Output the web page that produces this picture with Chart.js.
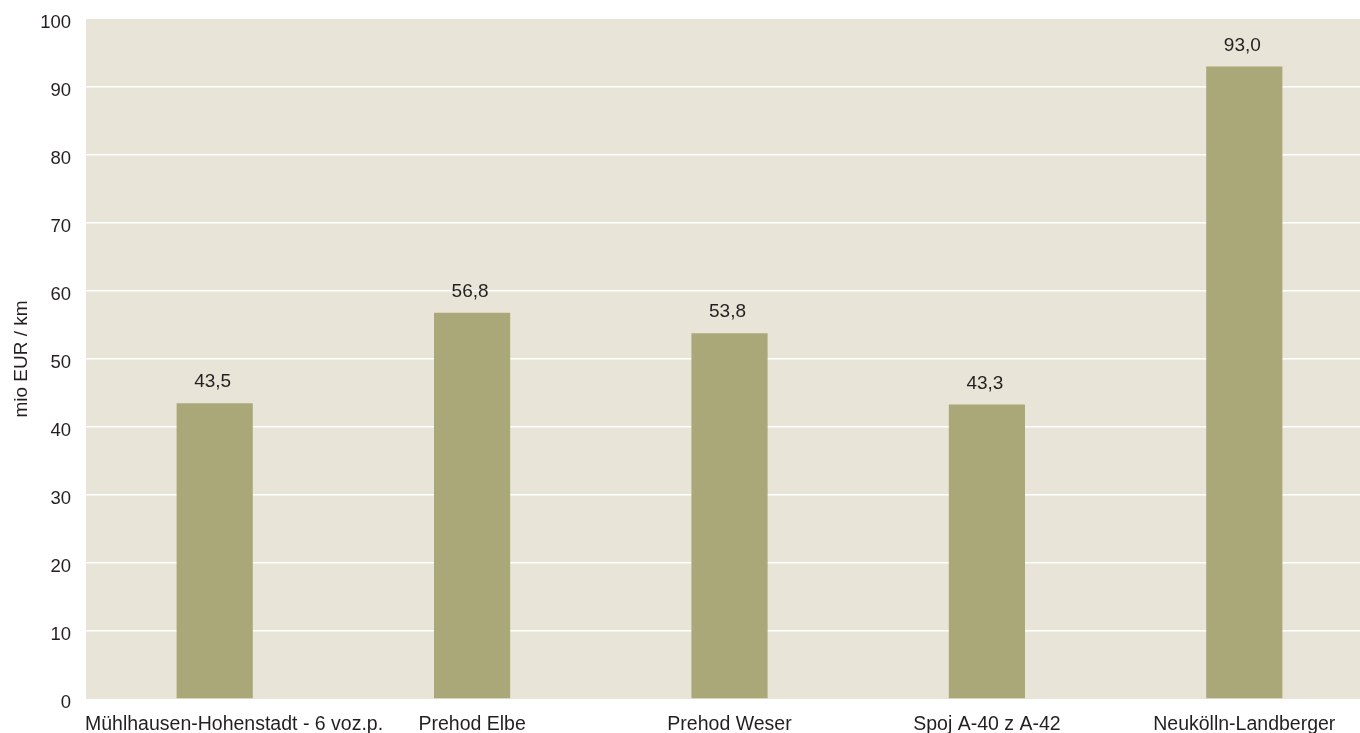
<!DOCTYPE html>
<html><head><meta charset="utf-8">
<script src="https://cdn.jsdelivr.net/npm/chart.js@4.4.0/dist/chart.umd.min.js"></script>
<style>
html,body{margin:0;padding:0;background:#fff;overflow:hidden;width:1360px;height:733px;}
#wrap{position:absolute;left:0;top:0;width:1373px;height:745px;}
</style></head><body>
<div id="wrap"><canvas id="c" width="1373" height="745"></canvas></div>
<script>
const categories = ["Mühlhausen-Hohenstadt - 6 voz.p.", "Prehod Elbe", "Prehod Weser", "Spoj A-40 z A-42", "Neukölln-Landberger"];
const values = [43.5, 56.8, 53.8, 43.3, 93.0];
const yTicks = [0, 10, 20, 30, 40, 50, 60, 70, 80, 90, 100];
const yTitle = "mio EUR / km";

const FONT = "'Liberation Sans', Arial, Helvetica, sans-serif";
const TXT = "#231f20";

const bgPlugin = {
  id: 'bg',
  beforeDraw(chart) {
    const {ctx, chartArea: a} = chart;
    ctx.save();
    ctx.fillStyle = '#e8e5d8';
    ctx.fillRect(a.left, a.top, a.right - a.left, a.bottom - a.top);
    ctx.restore();
  }
};
const labelPlugin = {
  id: 'lbl',
  afterDatasetsDraw(chart) {
    const {ctx, chartArea: a} = chart;
    const meta = chart.getDatasetMeta(0);
    const xs = chart.scales.x;
    ctx.save();
    ctx.fillStyle = TXT;
    ctx.textAlign = 'center';
    ctx.textBaseline = 'alphabetic';
    ctx.font = "19px " + FONT;
    meta.data.forEach((bar, i) => {
      ctx.fillText(values[i].toFixed(1).replace('.', ','), bar.x - 2, bar.y - 16);
    });
    ctx.font = "19.5px " + FONT;
    categories.forEach((c, i) => {
      let x = xs.getPixelForTick(i);
      const w = ctx.measureText(c).width;
      if (x - w / 2 < a.left - 1) x = a.left - 1 + w / 2;
      ctx.fillText(c, x, a.bottom + 31);
    });
    ctx.restore();
  }
};

new Chart(document.getElementById('c'), {
  type: 'bar',
  data: {
    labels: categories,
    datasets: [{
      data: values,
      backgroundColor: '#aaa878',
      barPercentage: 0.296,
      categoryPercentage: 1.0
    }]
  },
  options: {
    responsive: false,
    animation: false,
    devicePixelRatio: 1,
    layout: {padding: {top: 19, left: 0, right: 0, bottom: 0}},
    plugins: {legend: {display: false}, tooltip: {enabled: false}},
    scales: {
      x: {
        grid: {display: false, drawTicks: false},
        border: {display: false},
        ticks: {display: false},
        afterFit(s) { s.height = 46; s.paddingLeft = 0; s.paddingRight = 0; }
      },
      y: {
        min: 0, max: 100,
        afterBuildTicks(s) { s.ticks = yTicks.map(v => ({value: v})); },
        grid: {
          drawTicks: false,
          color: ctx => (ctx.tick && (ctx.tick.value === 0 || ctx.tick.value === 100)) ? 'rgba(0,0,0,0)' : '#ffffff',
          lineWidth: 1.5
        },
        border: {display: false},
        ticks: {padding: 15, labelOffset: 4, color: TXT, font: {family: FONT, size: 18.5}},
        title: {display: true, text: yTitle, color: TXT, font: {family: FONT, size: 19}, padding: {top: 10, bottom: 0}},
        afterFit(s) { s.width = 86; s.paddingTop = 0; s.paddingBottom = 0; }
      }
    }
  },
  plugins: [bgPlugin, labelPlugin]
});
</script>
</body></html>
